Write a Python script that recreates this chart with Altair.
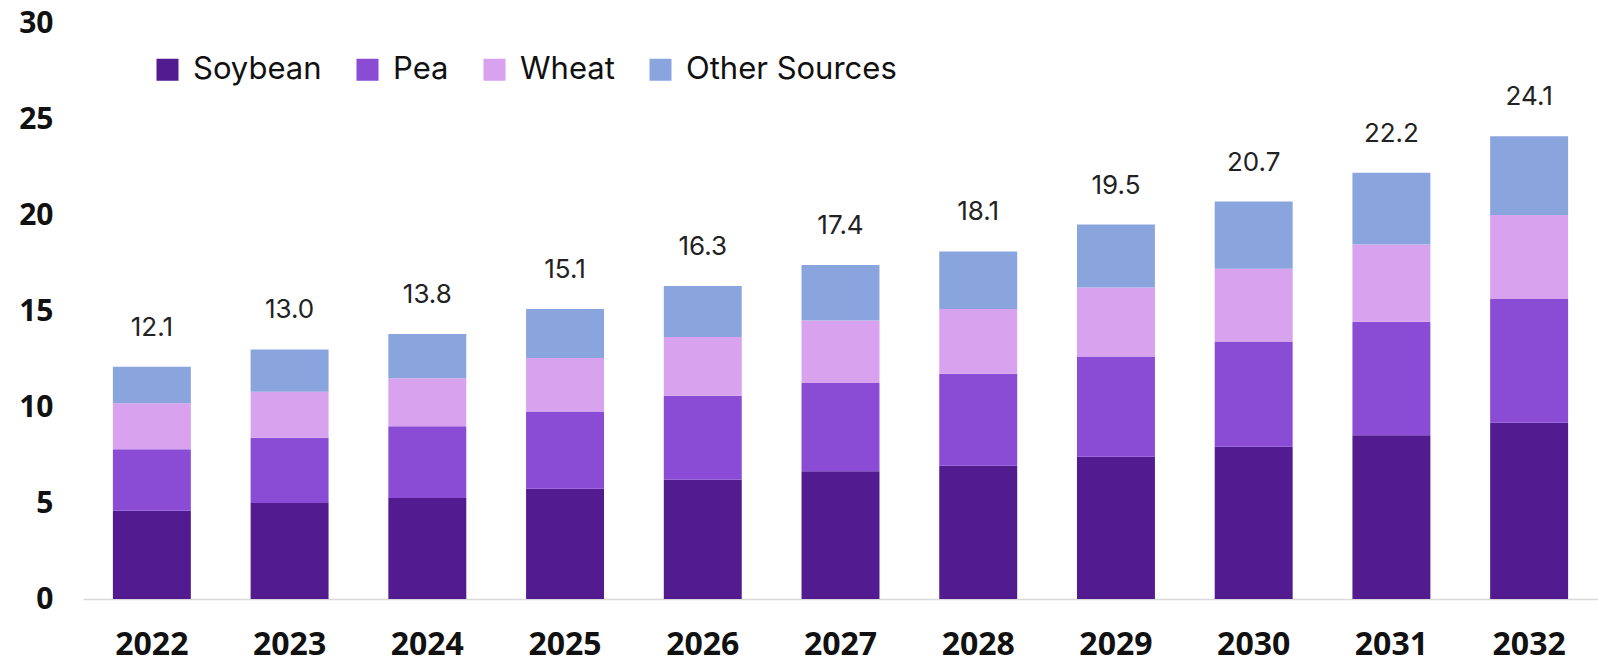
import altair as alt
import pandas as pd

years = ["2022", "2023", "2024", "2025", "2026", "2027", "2028", "2029", "2030", "2031", "2032"]
soybean = [4.6, 5.0, 5.26, 5.74, 6.21, 6.65, 6.94, 7.41, 7.93, 8.53, 9.18]
pea = [3.2, 3.4, 3.74, 4.03, 4.38, 4.6, 4.79, 5.22, 5.48, 5.91, 6.44]
wheat = [2.4, 2.4, 2.5, 2.78, 3.06, 3.25, 3.37, 3.6, 3.79, 4.03, 4.38]
other = [1.9, 2.2, 2.3, 2.55, 2.65, 2.9, 3.0, 3.27, 3.5, 3.73, 4.1]
totals = [12.1, 13.0, 13.8, 15.1, 16.3, 17.4, 18.1, 19.5, 20.7, 22.2, 24.1]

series = ["Soybean", "Pea", "Wheat", "Other Sources"]
colors = ["#521b8f", "#8a4bd5", "#d8a2ee", "#8aa5de"]

rows = []
for i, y in enumerate(years):
    for k, (name, vals) in enumerate(zip(series, [soybean, pea, wheat, other])):
        rows.append({"year": y, "source": name, "value": vals[i], "ord": k})
df = pd.DataFrame(rows)
tot = pd.DataFrame({"year": years, "total": totals})

xenc = alt.X("year:N", sort=years, title=None,
             scale=alt.Scale(paddingInner=0.434, paddingOuter=0.217),
             axis=alt.Axis(labelAngle=0, labelFont="Open Sans", labelFontWeight="bold",
                           labelFontSize=32, labelColor="#111111", labelPadding=30,
                           ticks=False, domain=True, domainColor="#d9d9d9", domainWidth=1.5))

bars = alt.Chart(df).mark_bar().encode(
    x=xenc,
    y=alt.Y("value:Q", stack="zero", title=None,
            scale=alt.Scale(domain=[0, 30], nice=False),
            axis=alt.Axis(values=[0, 5, 10, 15, 20, 25, 30], labelFont="Open Sans",
                          labelFontWeight="bold", labelFontSize=30, labelColor="#111111",
                          labelPadding=30, ticks=False, domain=False, grid=False)),
    color=alt.Color("source:N", sort=series,
                    scale=alt.Scale(domain=series, range=colors),
                    legend=alt.Legend(title=None, orient="none", legendX=69, legendY=31,
                                      direction="horizontal", symbolType="square",
                                      symbolSize=484, symbolStrokeWidth=0,
                                      labelFont="Inter", labelFontSize=31, labelLimit=400,
                                      labelColor="#111111", labelOffset=10,
                                      columnPadding=30)),
    order=alt.Order("ord:Q", sort="ascending"),
)

labels = alt.Chart(tot).mark_text(baseline="alphabetic", dy=-31, font="Inter",
                                  fontSize=26, color="#222222").encode(
    x=alt.X("year:N", sort=years),
    y=alt.Y("total:Q"),
    text=alt.Text("total:Q", format=".1f"),
)

chart = alt.layer(bars, labels).properties(
    width=1515, height=576,
    autosize=alt.AutoSizeParams(type="none"),
    padding={"left": 83, "top": 23, "right": 0, "bottom": 63},
).configure(background="white").configure_view(stroke=None)

chart.save("out.html", embed_options={"renderer": "svg", "actions": False})
